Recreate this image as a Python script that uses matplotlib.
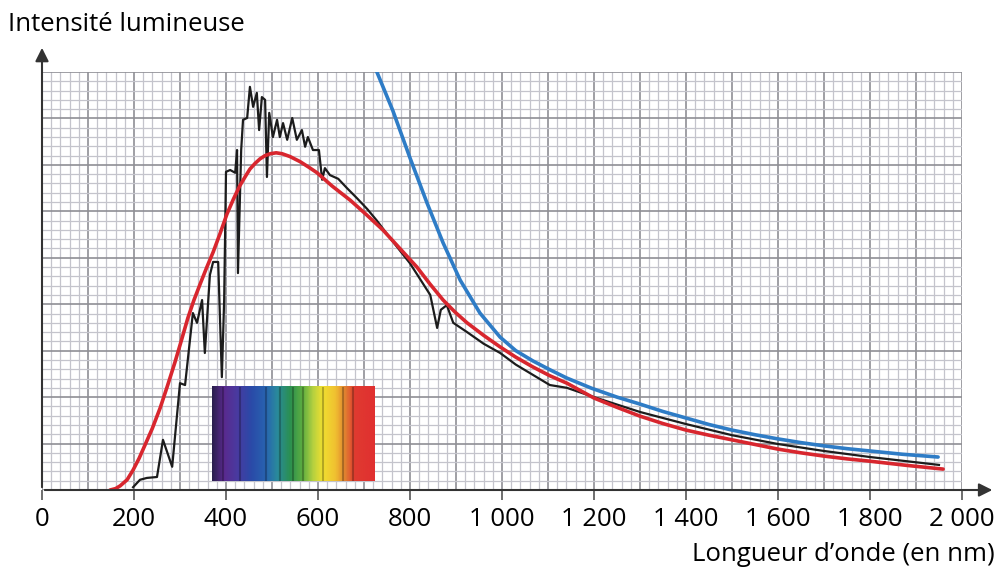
import numpy as np
import matplotlib
matplotlib.use("Agg")
import matplotlib.pyplot as plt
from matplotlib.colors import LinearSegmentedColormap

plt.rcParams['font.family'] = ['Open Sans', 'DejaVu Sans']

# Data (wavelength in nm, intensity in grid units)
red_nm = [148, 160, 170, 185, 198, 211, 224, 240, 257, 273, 289, 303, 317, 330, 344, 358, 372,
          387, 402, 416, 430, 442, 452, 463, 474, 485, 496, 509, 522, 539, 561, 580, 598, 630,
          670, 705, 741, 778, 815, 843, 872, 898, 924, 960, 996, 1030, 1067, 1104, 1141, 1200,
          1250, 1300, 1350, 1400, 1450, 1500, 1550, 1600, 1650, 1700, 1750, 1800, 1880, 1959]
red_val = [0, 0.03, 0.09, 0.22, 0.43, 0.68, 0.97, 1.33, 1.77, 2.25, 2.75, 3.22, 3.70, 4.08, 4.44,
           4.79, 5.12, 5.52, 5.94, 6.26, 6.55, 6.75, 6.91, 7.03, 7.13, 7.20, 7.24, 7.26, 7.24, 7.18,
           7.07, 6.95, 6.83, 6.55, 6.24, 5.93, 5.60, 5.20, 4.80, 4.44, 4.09, 3.83, 3.60, 3.33, 3.08,
           2.86, 2.65, 2.46, 2.30, 1.98, 1.78, 1.59, 1.43, 1.29, 1.18, 1.08, 0.98, 0.88, 0.80, 0.73,
           0.67, 0.62, 0.53, 0.45]

blue_nm = [722, 728, 763, 800, 837, 872, 909, 952, 996, 1030, 1067, 1104, 1141, 1195, 1250,
           1300, 1350, 1400, 1450, 1500, 1550, 1600, 1650, 1700, 1750, 1800, 1870, 1948]
blue_val = [9.3, 9.0, 8.16, 7.15, 6.18, 5.32, 4.52, 3.81, 3.29, 3.00, 2.78, 2.59, 2.41, 2.19, 2.00,
            1.85, 1.69, 1.55, 1.41, 1.29, 1.19, 1.10, 1.02, 0.95, 0.89, 0.84, 0.77, 0.71]

black_nm = [198, 213, 228, 250, 263, 283, 300, 311, 328, 337, 348, 354, 365, 372, 383,
            391, 396, 400, 409, 420, 424, 426, 433, 437, 446, 452, 459, 467, 472, 478,
            485, 489, 494, 502, 511, 517, 524, 533, 544, 554, 565, 572, 578, 589, 602,
            609, 615, 626, 644, 663, 685, 707, 728, 757, 800, 844, 859, 867, 880, 894,
            924, 960, 996, 1030, 1067, 1104, 1141, 1200, 1300, 1400, 1500, 1600, 1700, 1800, 1950]
black_val = [0.06, 0.22, 0.26, 0.28, 1.08, 0.50, 2.30, 2.26, 3.81, 3.60, 4.09, 2.95, 4.63, 4.91, 4.91,
             2.43, 4.09, 6.85, 6.89, 6.83, 7.32, 4.67, 7.32, 7.97, 8.01, 8.68, 8.25, 8.55, 7.75, 8.46,
             8.40, 6.74, 8.12, 7.60, 7.97, 7.60, 7.90, 7.54, 8.01, 7.54, 7.75, 7.39, 7.60, 7.32, 7.32,
             6.68, 6.93, 6.78, 6.70, 6.50, 6.28, 6.05, 5.80, 5.42, 4.88, 4.20, 3.49, 3.88, 3.98, 3.60,
             3.40, 3.15, 2.95, 2.70, 2.48, 2.26, 2.20, 2.00, 1.68, 1.42, 1.18, 0.99, 0.84, 0.71, 0.54]

tick_pos = list(range(0, 2001, 200))
tick_labels = ['0', '200', '400', '600', '800', '1 000', '1 200', '1 400', '1 600', '1 800', '2 000']

# visible spectrum strip
spec_stops = [0.0, 0.07, 0.15, 0.24, 0.33, 0.40, 0.48, 0.56, 0.62, 0.68, 0.76, 0.82, 0.88, 1.0]
spec_colors = ['#2a1f4e', '#5a2a8e', '#4a3aa0', '#2a4aa8', '#2864b0', '#2a8a9c', '#2a9050',
               '#62b040', '#b4d040', '#f0e030', '#f0c030', '#e08030', '#e03a30', '#e03030']
spec_range = (370, 724)
spec_y = (0.19, 2.22)
spec_dark_lines = [394, 430, 488, 517, 546, 568, 611, 655, 677]

fig = plt.figure(figsize=(9.98, 5.68), dpi=100)
ax = fig.add_axes([42/998, 78/568, 920/998, 418/568])

# graph paper
for x in np.arange(0, 2001, 20):
    major = x % 100 == 0
    ax.axvline(x, color='#8f8f95' if major else '#c4c4cc', lw=1.2 if major else 0.9, zorder=1)
for y in np.arange(0, 9.01, 0.2):
    major = abs(y - round(y)) < 1e-6
    ax.axhline(y, color='#8f8f95' if major else '#c4c4cc', lw=1.2 if major else 0.9, zorder=1)

# spectrum
cmap = LinearSegmentedColormap.from_list('spec', list(zip(spec_stops, spec_colors)))
ax.imshow(np.linspace(0, 1, 300)[None, :], cmap=cmap, aspect='auto',
          extent=[spec_range[0], spec_range[1], spec_y[0], spec_y[1]], zorder=3)
ax.vlines(spec_dark_lines, spec_y[0], spec_y[1], color='black', alpha=0.25, lw=1.5, zorder=3)

ax.plot(black_nm, black_val, color='#1c1c1c', lw=1.6, zorder=4)
ax.plot(red_nm, red_val, color='#d8262e', lw=2.6, zorder=5, solid_capstyle='round')
ax.plot(blue_nm, blue_val, color='#2e7cc6', lw=2.6, zorder=6, solid_capstyle='round')

ax.set_xlim(0, 2000)
ax.set_ylim(0, 9)
for s in ax.spines.values():
    s.set_visible(False)

ax.set_yticks([])
ax.set_xticks(tick_pos)
ax.set_xticklabels(tick_labels)
ax.tick_params(axis='x', length=7, width=1.2, color='#555555', pad=5, labelsize=18.5)

# axes with arrows
ax.annotate('', xy=(2072, 0), xytext=(0, 0), xycoords='data', annotation_clip=False,
            arrowprops=dict(arrowstyle='-|>', color='#333333', lw=1.5, mutation_scale=20), zorder=7)
ax.annotate('', xy=(0, 9.58), xytext=(0, 0), xycoords='data', annotation_clip=False,
            arrowprops=dict(arrowstyle='-|>', color='#333333', lw=1.5, mutation_scale=20), zorder=7)

fig.text(8/998, 1 - 31/568, 'Intensité lumineuse', fontsize=18.5, va='baseline', ha='left')
fig.text(995/998, 1 - 561/568, 'Longueur d’onde (en nm)', fontsize=18.5, va='baseline', ha='right')

fig.savefig('out.png', dpi=100)
